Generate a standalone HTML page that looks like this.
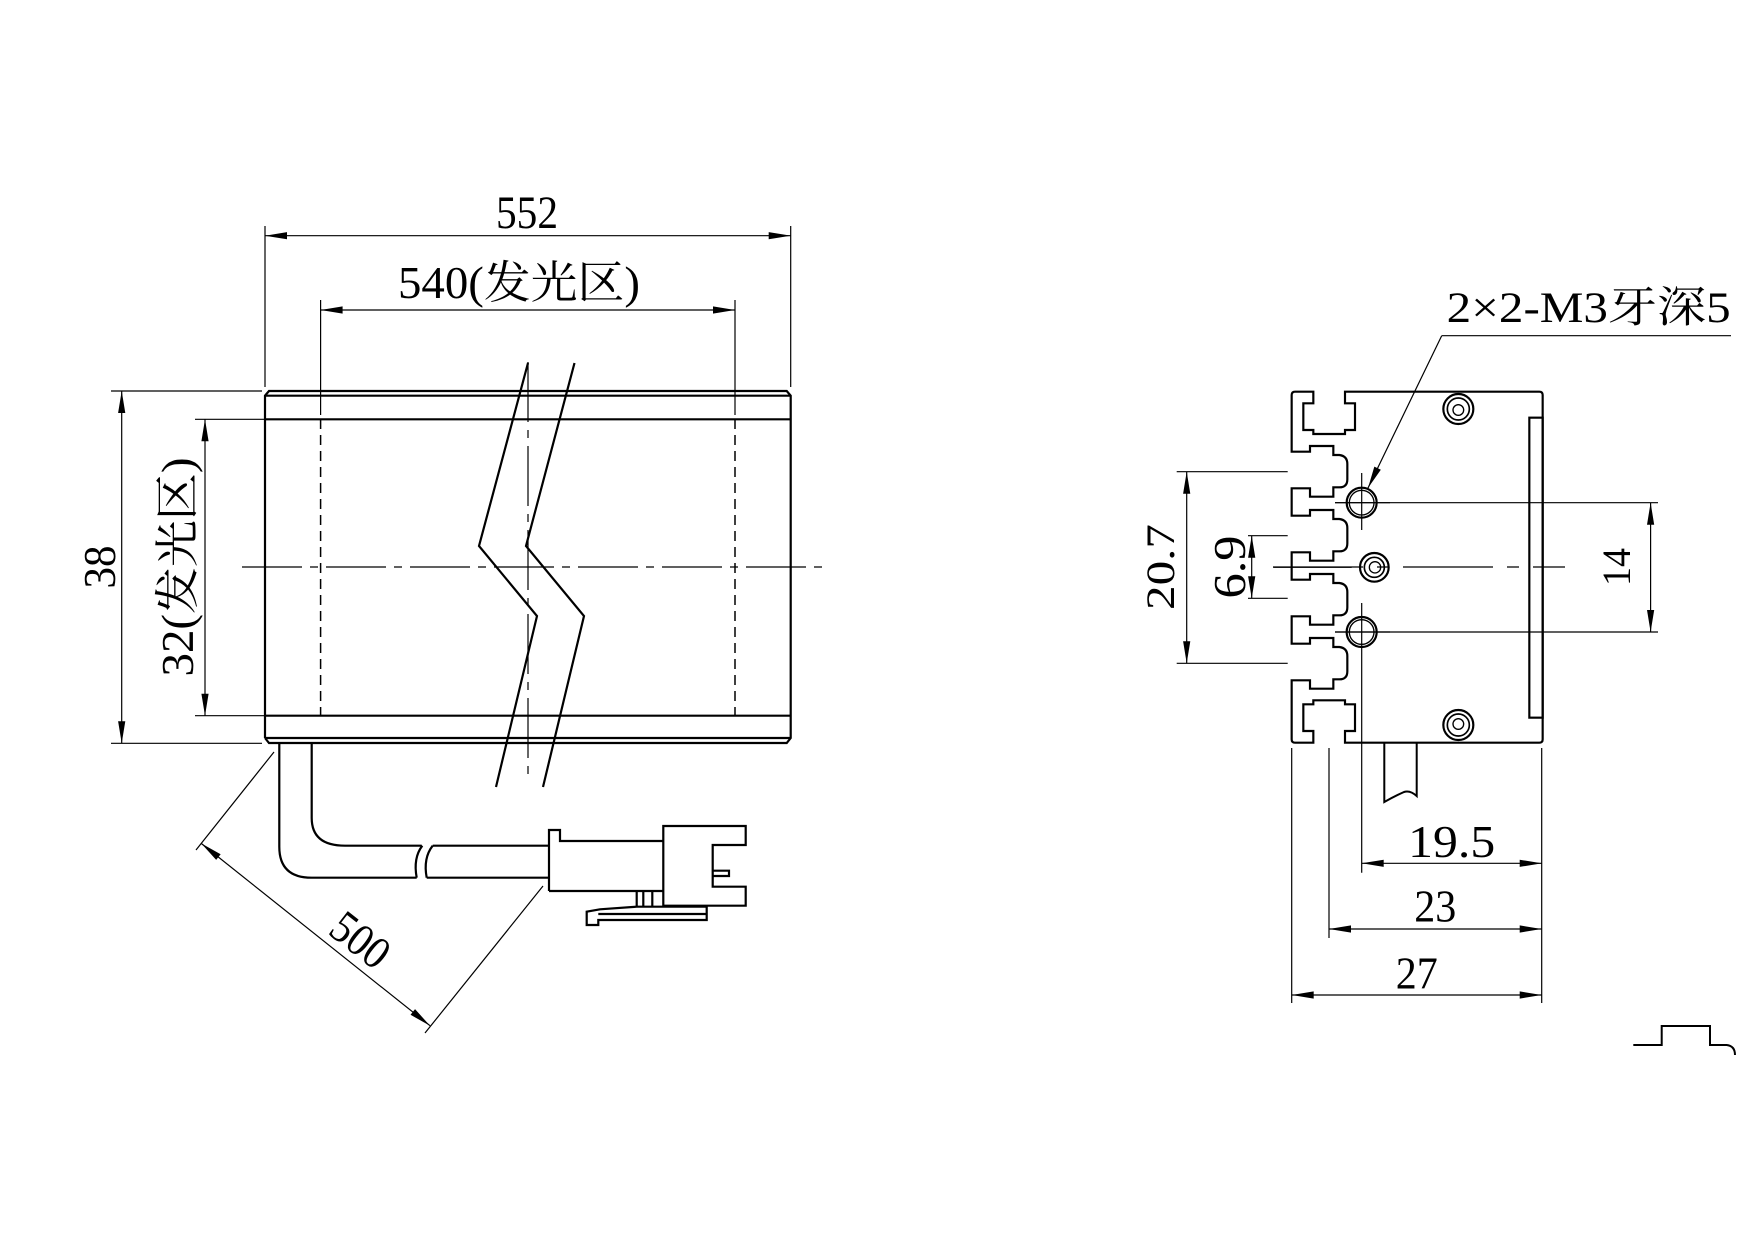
<!DOCTYPE html>
<html><head><meta charset="utf-8"><style>
html,body{margin:0;padding:0;background:#fff;}
svg{display:block;}
text{font-family:"Liberation Serif","Noto Serif CJK SC","Noto Sans CJK SC",serif;fill:#000;}
</style></head><body>
<svg width="1754" height="1240" viewBox="0 0 1754 1240" xmlns="http://www.w3.org/2000/svg">
<defs>
<marker id="a" markerUnits="userSpaceOnUse" viewBox="-24 -5 24 10" markerWidth="24" markerHeight="10" refX="0" refY="0" orient="auto-start-reverse">
<path d="M0,0 L-22,-3.6 L-22,3.6 z" fill="#000"/>
</marker>
</defs>
<rect width="1754" height="1240" fill="#fff"/>
<g fill="none" stroke="#000">
<g stroke-width="1.2">
<line x1="265" y1="226" x2="265" y2="387"/>
<line x1="790.7" y1="226" x2="790.7" y2="387"/>
<line x1="320.6" y1="300" x2="320.6" y2="415"/>
<line x1="735" y1="300" x2="735" y2="415"/>
<line x1="111" y1="391" x2="262" y2="391"/>
<line x1="111" y1="743.3" x2="262" y2="743.3"/>
<line x1="195" y1="419.3" x2="265" y2="419.3"/>
<line x1="195" y1="715.7" x2="265" y2="715.7"/>
<line x1="265" y1="235.7" x2="790.7" y2="235.7" marker-start="url(#a)" marker-end="url(#a)"/>
<line x1="320.6" y1="310" x2="735" y2="310" marker-start="url(#a)" marker-end="url(#a)"/>
<line x1="121.7" y1="391" x2="121.7" y2="743.3" marker-start="url(#a)" marker-end="url(#a)"/>
<line x1="205" y1="419.3" x2="205" y2="715.7" marker-start="url(#a)" marker-end="url(#a)"/>
<line x1="274" y1="752" x2="196" y2="850"/>
<line x1="543" y1="886" x2="425" y2="1033"/>
<line x1="201.2" y1="843.4" x2="430" y2="1025.7" marker-start="url(#a)" marker-end="url(#a)"/>
<line x1="242" y1="567" x2="822" y2="567" stroke-dasharray="60 8 8 8"/>
<line x1="528" y1="362" x2="528" y2="780" stroke-dasharray="60 8 8 8"/>
</g>
<g stroke-width="1.5" stroke-dasharray="10 6">
<line x1="320.6" y1="419" x2="320.6" y2="716"/>
<line x1="735" y1="419" x2="735" y2="716"/>
</g>
<g stroke-width="2.2">
<polyline points="265,738 265,395.7 269,391 786.7,391 790.7,395.7 790.7,738 786.7,743 269,743 265,738"/>
<line x1="265" y1="395.7" x2="790.7" y2="395.7"/>
<line x1="265" y1="419.3" x2="790.7" y2="419.3"/>
<line x1="265" y1="715.7" x2="790.7" y2="715.7"/>
<line x1="265" y1="738" x2="790.7" y2="738"/>
<polyline points="528,363 479,546 537,616 496,787"/>
<polyline points="574.5,363 526,546 584,616 543,787"/>
<path d="M279.3,743 L279.3,846.7 Q279.3,877.7 311.7,877.7 L416.7,877.7"/>
<path d="M311.7,743 L311.7,818 Q311.7,845.7 345,845.7 L421.7,845.7"/>
<path d="M422.3,845.7 Q413,858 416.7,877.7"/>
<path d="M432.7,845.7 Q423,858 426.7,877.7"/>
<line x1="432.7" y1="845.7" x2="549" y2="845.7"/>
<line x1="426.7" y1="877.7" x2="549" y2="877.7"/>
<polyline points="549,891 549,830 560,830 560,841 663.3,841"/>
<line x1="549" y1="891" x2="663.3" y2="891"/>
<polygon points="663.3,826 745.7,826 745.7,845 712.7,845 712.7,886.7 745.7,886.7 745.7,905.7 663.3,905.7"/>
<polyline points="712.7,870.7 729,870.7 729,876 712.7,876"/>
<line x1="636.7" y1="891" x2="636.7" y2="906.7"/>
<line x1="643.3" y1="891" x2="643.3" y2="906.7"/>
<line x1="652.3" y1="891" x2="652.3" y2="906.7"/>
<polygon points="586.7,925 586.7,911.7 600,909.3 636.7,906.7 706.7,906.7 706.7,920 598.3,920 598.3,925"/>
<line x1="598.3" y1="914" x2="706.7" y2="914"/>
</g>
<g stroke-width="1.2">
<line x1="1176.7" y1="471.7" x2="1287.7" y2="471.7"/>
<line x1="1176.7" y1="663.3" x2="1287.7" y2="663.3"/>
<line x1="1186.7" y1="471.7" x2="1186.7" y2="663.3" marker-start="url(#a)" marker-end="url(#a)"/>
<line x1="1248" y1="535.7" x2="1287.7" y2="535.7"/>
<line x1="1248" y1="598.3" x2="1287.7" y2="598.3"/>
<line x1="1251.7" y1="535.7" x2="1251.7" y2="598.3" marker-start="url(#a)" marker-end="url(#a)"/>
<line x1="1335" y1="502.7" x2="1658" y2="502.7"/>
<line x1="1335" y1="632" x2="1658" y2="632"/>
<line x1="1650.6" y1="502.7" x2="1650.6" y2="632" marker-start="url(#a)" marker-end="url(#a)"/>
<line x1="1273" y1="567" x2="1565" y2="567" stroke-dasharray="90 14 12 14"/>
<line x1="1361.7" y1="473" x2="1361.7" y2="530"/>
<line x1="1361.7" y1="603" x2="1361.7" y2="872.7"/>
<line x1="1731" y1="335.7" x2="1441.7" y2="335.7"/>
<line x1="1441.7" y1="335.7" x2="1368" y2="488" marker-end="url(#a)"/>
<line x1="1291.7" y1="748" x2="1291.7" y2="1003"/>
<line x1="1329" y1="748" x2="1329" y2="938"/>
<line x1="1541.7" y1="748" x2="1541.7" y2="1003"/>
<line x1="1361.7" y1="863.3" x2="1541.7" y2="863.3" marker-start="url(#a)" marker-end="url(#a)"/>
<line x1="1329" y1="929" x2="1541.7" y2="929" marker-start="url(#a)" marker-end="url(#a)"/>
<line x1="1291.7" y1="995" x2="1541.7" y2="995" marker-start="url(#a)" marker-end="url(#a)"/>
</g>
<g transform="translate(1250,370) scale(0.333333)" stroke-width="6.5">
<path d="M190,65 L135,65 Q125,65 125,75 L125,245 L180,245 L180,228 L250,228 L250,255 L268,255 Q292,258 292,282 L292,328 Q292,352 268,352 L250,352 L250,380 L180,380 L180,355 L125,355 L125,437 L180,437 L180,420 L250,420 L250,447 L268,447 Q292,450 292,474 L292,520 Q292,544 268,544 L250,544 L250,572 L180,572 L180,547 L125,547 L125,629 L180,629 L180,612 L250,612 L250,639 L268,639 Q292,642 292,666 L292,712 Q292,736 268,736 L250,736 L250,764 L180,764 L180,739 L125,739 L125,821 L180,821 L180,804 L250,804 L250,831 L268,831 Q292,834 292,858 L292,904 Q292,928 268,928 L250,928 L250,956 L180,956 L180,931 L125,931 L125,1108 Q125,1118 135,1118 L190,1118 L190,1083 L160,1083 L160,1003 L190,1003 L190,991 L285,991 L285,1003 L315,1003 L315,1083 L285,1083 L285,1118 L868,1118 Q878,1118 878,1108 L878,75 Q878,65 868,65 L285,65 L285,100 L315,100 L315,180 L285,180 L285,192 L190,192 L190,180 L160,180 L160,100 L190,100 Z"/>
<rect x="838" y="143" width="40" height="900"/>
<circle cx="335" cy="398" r="45"/>
<circle cx="335" cy="398" r="37" stroke-width="4"/>
<circle cx="335" cy="786" r="45"/>
<circle cx="335" cy="786" r="37" stroke-width="4"/>
<circle cx="373" cy="592" r="43"/>
<circle cx="373" cy="592" r="30" stroke-width="5"/>
<circle cx="375" cy="592" r="17" stroke-width="4"/>
<circle cx="625" cy="117" r="45"/>
<circle cx="625" cy="117" r="33" stroke-width="5"/>
<circle cx="625" cy="120" r="16" stroke-width="4"/>
<circle cx="625" cy="1065" r="45"/>
<circle cx="625" cy="1065" r="33" stroke-width="5"/>
<circle cx="625" cy="1062" r="16" stroke-width="4"/>
<line x1="255" y1="398" x2="420" y2="398" stroke-width="3.5"/>
<line x1="255" y1="786" x2="420" y2="786" stroke-width="3.5"/>
<line x1="70" y1="592" x2="305" y2="592" stroke-width="3.5"/>
</g>
<g stroke-width="2">
<path d="M1384.3,743 L1384.3,802 Q1395,796 1404,792 Q1410,790 1416.7,796 L1416.7,743"/>
<path d="M1633.3,1045 L1661.7,1045 L1661.7,1026 L1710,1026 L1710,1045 L1726.7,1045 Q1735,1046 1735,1055"/>
</g>
</g>

<text x="527" y="228" font-size="47" text-anchor="middle" textLength="62" lengthAdjust="spacingAndGlyphs">552</text>
<text x="398" y="298" font-size="45" textLength="242" lengthAdjust="spacingAndGlyphs">540(发光区)</text>
<text transform="translate(115,567) rotate(-90)" font-size="46" text-anchor="middle" textLength="43" lengthAdjust="spacingAndGlyphs">38</text>
<text transform="translate(193,567) rotate(-90)" font-size="45" text-anchor="middle" textLength="219" lengthAdjust="spacingAndGlyphs">32(发光区)</text>
<text transform="translate(351,952) rotate(38)" font-size="46" text-anchor="middle" textLength="62" lengthAdjust="spacingAndGlyphs">500</text>
<text x="1446.7" y="322" font-size="43" textLength="284" lengthAdjust="spacingAndGlyphs">2×2-M3牙深5</text>
<text transform="translate(1174,567) rotate(-90)" font-size="40" text-anchor="middle" textLength="86" lengthAdjust="spacingAndGlyphs">20.7</text>
<text transform="translate(1245,567) rotate(-90)" font-size="45" text-anchor="middle" textLength="63" lengthAdjust="spacingAndGlyphs">6.9</text>
<text transform="translate(1630,567) rotate(-90)" font-size="40" text-anchor="middle" textLength="38" lengthAdjust="spacingAndGlyphs">14</text>
<text x="1451.7" y="857" font-size="46" text-anchor="middle" textLength="87" lengthAdjust="spacingAndGlyphs">19.5</text>
<text x="1435.3" y="921.7" font-size="46" text-anchor="middle" textLength="42" lengthAdjust="spacingAndGlyphs">23</text>
<text x="1416.7" y="988.3" font-size="46" text-anchor="middle" textLength="42" lengthAdjust="spacingAndGlyphs">27</text>
</svg>
</body></html>
